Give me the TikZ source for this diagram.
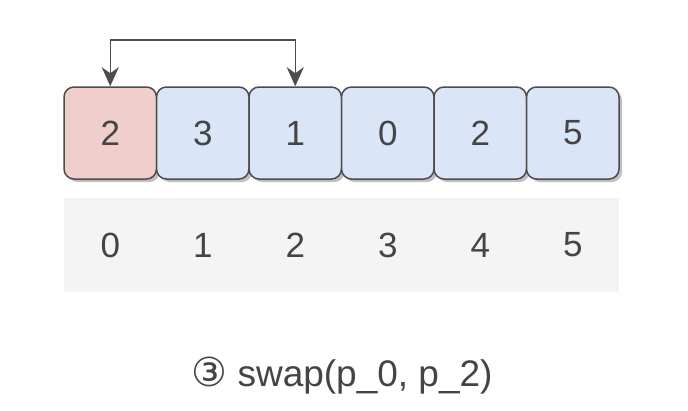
\documentclass[tikz,border=0pt]{standalone}
\usepackage{fontspec}
\setmainfont{Liberation Sans}
\newfontfamily\dejavu{DejaVu Sans}
\usetikzlibrary{arrows.meta,shadows}
\definecolor{txt}{HTML}{444444}
\definecolor{edge}{HTML}{4D4D4D}
\definecolor{redfill}{HTML}{F0CECC}
\definecolor{bluefill}{HTML}{DAE5F8}
\definecolor{idxfill}{HTML}{F4F4F4}
\tikzset{
  cell/.style={draw=edge, line width=1.5pt, rounded corners=10pt,
    minimum width=92.5pt, minimum height=92pt, inner sep=0pt,
    text=txt, font=\fontsize{35}{40}\selectfont,
    drop shadow={shadow xshift=3pt, shadow yshift=-3pt, opacity=0.25, fill=black}},
  idx/.style={fill=idxfill, draw=none, minimum width=92.5pt, minimum height=94pt,
    inner sep=0pt, text=txt, font=\fontsize{35}{40}\selectfont},
  link/.style={draw=edge, line width=1.5pt,
    {Stealth[length=19pt,width=17pt,inset=6pt]}-{Stealth[length=19pt,width=17pt,inset=6pt]}},
}
\begin{document}
\begin{tikzpicture}[x=1pt,y=-1pt]
\useasboundingbox (0,0) rectangle (688,410);
\node[cell, fill=redfill]  (b0) at (110.25,133) {2};
\node[cell, fill=bluefill] (b1) at (202.75,133) {3};
\node[cell, fill=bluefill] (b2) at (295.25,133) {1};
\node[cell, fill=bluefill] (b3) at (387.75,133) {0};
\node[cell, fill=bluefill] (b4) at (480.25,133) {2};
\node[cell, fill=bluefill] (b5) at (572.75,133) {5};
\node[idx] (i0) at (110.25,245) {0};
\node[idx] (i1) at (202.75,245) {1};
\node[idx] (i2) at (295.25,245) {2};
\node[idx] (i3) at (387.75,245) {3};
\node[idx] (i4) at (480.25,245) {4};
\node[idx] (i5) at (572.75,245) {5};
\coordinate (top) at (200,40);
\draw[link] (b2.north) -- (b2.north |- top) -- (b0.north |- top) -- (b0.north);
\node[text=txt, font=\fontsize{37}{44}\selectfont] (cap) at (342,376) {{\dejavu\fontsize{40}{44}\selectfont ③} swap(p\_0, p\_2)};
\end{tikzpicture}
\end{document}
